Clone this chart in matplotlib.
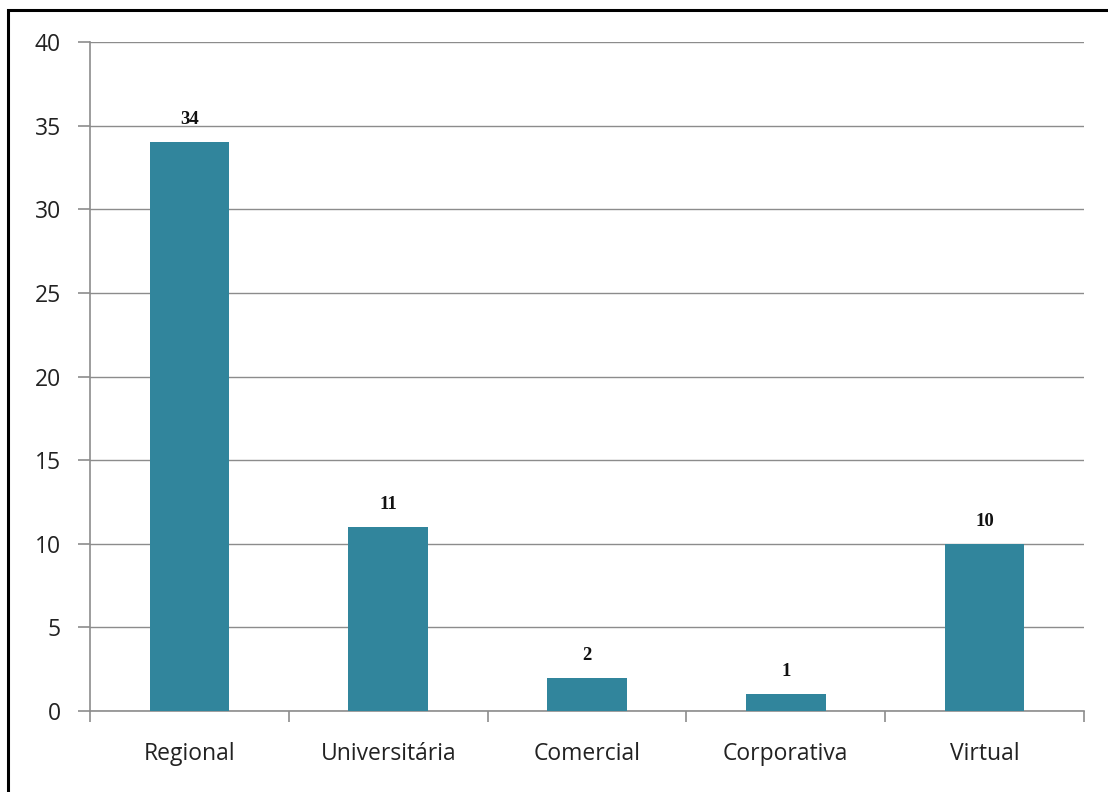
import matplotlib
matplotlib.use("Agg")
import matplotlib.pyplot as plt
from matplotlib.patches import Rectangle

categories = ["Regional", "Universitária", "Comercial", "Corporativa", "Virtual"]
values = [34, 11, 2, 1, 10]
y_ticks = [0, 5, 10, 15, 20, 25, 30, 35, 40]

bar_color = "#31859C"
grid_color = "#8C8C8C"

fig = plt.figure(figsize=(11.08, 7.92), dpi=100)
ax = fig.add_axes([90 / 1108, 1 - 711 / 792, (1084 - 90) / 1108, (711 - 42) / 792])

x = list(range(len(categories)))
ax.bar(x, values, width=0.4, color=bar_color, zorder=3)

ax.set_xlim(-0.5, len(categories) - 0.5)
ax.set_ylim(0, 40)
ax.set_yticks(y_ticks)
ax.yaxis.grid(True, color=grid_color, linewidth=1.0, zorder=0)

# category labels centered under bars, tick marks on category boundaries
ax.set_xticks(x)
ax.set_xticklabels(categories, fontsize=16.5, family="Open Sans", color="#222222")
ax.set_xticks([i + 0.5 for i in range(-1, len(categories))], minor=True)
ax.tick_params(axis="x", which="major", length=0, pad=22)
ax.tick_params(axis="x", which="minor", length=8, color=grid_color, width=1.2)
ax.tick_params(axis="y", length=9, color=grid_color, width=1.2, pad=12)
for lbl in ax.get_yticklabels():
    lbl.set_fontsize(16.5)
    lbl.set_family("Open Sans")
    lbl.set_color("#222222")

for side in ("top", "right"):
    ax.spines[side].set_visible(False)
for side in ("left", "bottom"):
    ax.spines[side].set_color(grid_color)
    ax.spines[side].set_linewidth(1.2)

for xi, v in zip(x, values):
    ax.annotate(str(v), (xi, v), xytext=(0, 10), textcoords="offset points",
                ha="center", va="bottom", fontsize=13.5, fontweight="bold",
                family="Liberation Serif", color="#111111")

# outer frame of the chart area
fig.patches.append(Rectangle((8 / 1108, -0.05), 1.2, 1 - 10 / 792 + 0.05,
                             transform=fig.transFigure, fill=False,
                             edgecolor="black", linewidth=2.2))

fig.savefig("out.png", dpi=100)
